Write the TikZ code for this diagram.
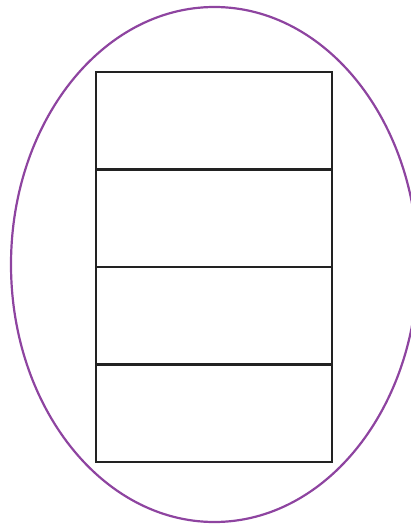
\documentclass[tikz,border=0pt]{standalone}
\definecolor{ovalpurple}{HTML}{8E44A0}
\definecolor{boxdark}{HTML}{222222}
\usetikzlibrary{positioning}

\begin{document}
\begin{tikzpicture}[x=1pt, y=-1pt,
      cell/.style={draw=boxdark, line width=2.2pt, minimum width=236pt,
         minimum height=97.5pt, inner sep=0pt, outer sep=0pt}]
      % Frame
      \useasboundingbox (0,0) rectangle (411,524);
      \clip (0,0) rectangle (411,524);
      % Oval
      \draw[ovalpurple, line width=2.2pt] (214.4,264.5) ellipse [x radius=203.4pt, y radius=257.5pt];
      % Stacked cells
      \node[cell] (row1) at (214,120.75) {};
      \node[cell, below=0pt of row1] (row2) {};
      \node[cell, below=0pt of row2] (row3) {};
      \node[cell, below=0pt of row3] (row4) {};
   \end{tikzpicture}
\end{document}
